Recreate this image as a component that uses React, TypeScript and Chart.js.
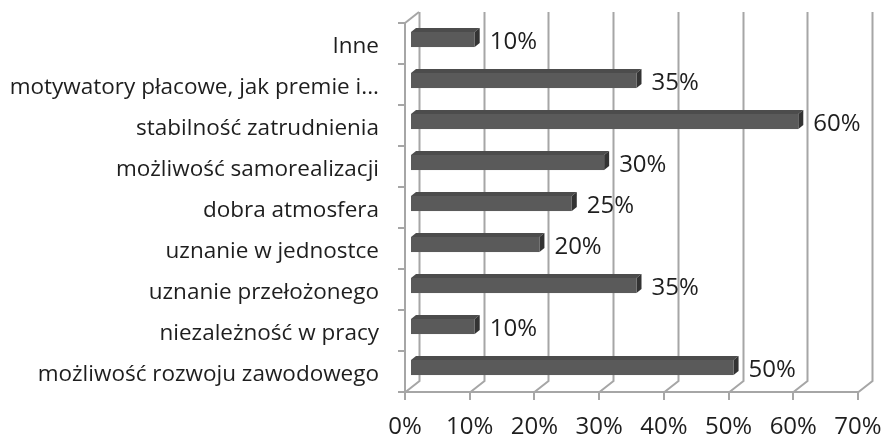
import React, { useEffect, useRef } from 'react';
import { Chart, registerables } from 'chart.js';
Chart.register(...registerables);

const categories = [
  'Inne',
  'motywatory płacowe, jak premie i...',
  'stabilność zatrudnienia',
  'możliwość samorealizacji',
  'dobra atmosfera',
  'uznanie w jednostce',
  'uznanie przełożonego',
  'niezależność w pracy',
  'możliwość rozwoju zawodowego',
];
const values = [10, 35, 60, 30, 25, 20, 35, 10, 50];
const xTicks = [0, 10, 20, 30, 40, 50, 60, 70];

const FONT = '"Open Sans", sans-serif';
const CAT_SIZE = 22.5;
const NUM_SIZE = 24;
const TEXT = '#1e1e1e';
const GRID = '#a6a6a6';
const WALL_DX = 14;
const WALL_DY = -11;
const BAR_DX = 5;
const BAR_DY = -4;

const wallPlugin = {
  id: 'wall3d',
  beforeDatasetsDraw(chart: any) {
    const { ctx, chartArea } = chart;
    const xs = chart.scales.x;
    const { top, bottom, left } = chartArea;
    ctx.save();
    ctx.strokeStyle = GRID;
    ctx.lineWidth = 2;
    xTicks.forEach((v) => {
      const px = Math.round(xs.getPixelForValue(v)) + 0.5;
      ctx.beginPath();
      ctx.moveTo(px + WALL_DX, top + WALL_DY);
      ctx.lineTo(px + WALL_DX, bottom + WALL_DY);
      ctx.lineTo(px, bottom);
      ctx.stroke();
    });
    ctx.beginPath();
    ctx.moveTo(left, top);
    ctx.lineTo(left + WALL_DX, top + WALL_DY);
    ctx.stroke();
    ctx.restore();
  },
  afterDatasetsDraw(chart: any) {
    const { ctx } = chart;
    const meta = chart.getDatasetMeta(0);
    ctx.save();
    meta.data.forEach((el: any, i: number) => {
      const { x, y, base, height } = el.getProps(['x', 'y', 'base', 'height'], true);
      const l = base + BAR_DX;
      const r = x + BAR_DX;
      const t = y - height / 2 + BAR_DY;
      const b = t + height;
      ctx.fillStyle = '#4c4c4c';
      ctx.beginPath();
      ctx.moveTo(l, t);
      ctx.lineTo(l + BAR_DX, t + BAR_DY);
      ctx.lineTo(r + BAR_DX, t + BAR_DY);
      ctx.lineTo(r, t);
      ctx.closePath();
      ctx.fill();
      ctx.fillStyle = '#333333';
      ctx.beginPath();
      ctx.moveTo(r, t);
      ctx.lineTo(r + BAR_DX, t + BAR_DY);
      ctx.lineTo(r + BAR_DX, b + BAR_DY);
      ctx.lineTo(r, b);
      ctx.closePath();
      ctx.fill();
      ctx.fillStyle = '#5a5a5a';
      ctx.fillRect(l, t, r - l, b - t);
      ctx.fillStyle = TEXT;
      ctx.font = `${NUM_SIZE}px ${FONT}`;
      ctx.textAlign = 'left';
      ctx.textBaseline = 'middle';
      ctx.fillText(`${values[i]}%`, x + 20, y - 1);
    });
    ctx.restore();
  },
};

export default function App() {
  const ref = useRef<HTMLCanvasElement | null>(null);
  useEffect(() => {
    if (!ref.current) return;
    const chart = new Chart(ref.current, {
      type: 'bar',
      data: {
        labels: categories,
        datasets: [
          {
            data: values,
            backgroundColor: 'rgba(0,0,0,0)',
            borderWidth: 0,
            barPercentage: 0.46,
            categoryPercentage: 0.8,
          },
        ],
      },
      options: {
        indexAxis: 'y',
        animation: false,
        responsive: false,
        devicePixelRatio: 1,
        layout: { padding: { top: 23, right: 26, left: 0, bottom: 0 } },
        plugins: { legend: { display: false }, tooltip: { enabled: false } },
        scales: {
          x: {
            min: 0,
            max: 70,
            afterBuildTicks: (s: any) => {
              s.ticks = xTicks.map((v) => ({ value: v }));
            },
            afterFit: (s: any) => {
              s.height = 47;
              s.paddingLeft = 0;
              s.paddingRight = 0;
            },
            grid: { drawOnChartArea: false, color: GRID, lineWidth: 2, tickLength: 8 },
            border: { color: GRID, width: 2 },
            ticks: {
              color: TEXT,
              font: { family: FONT, size: NUM_SIZE },
              padding: 13,
              maxRotation: 0,
              callback: (v: any) => `${v}%`,
            },
          },
          y: {
            afterFit: (s: any) => {
              s.width = 405;
              s.paddingTop = 0;
              s.paddingBottom = 0;
            },
            grid: { drawOnChartArea: false, color: GRID, lineWidth: 2, tickLength: 7, offset: true },
            border: { color: GRID, width: 2 },
            ticks: {
              color: TEXT,
              font: { family: FONT, size: CAT_SIZE },
              padding: 19,
              labelOffset: 3,
            },
          },
        },
      },
      plugins: [wallPlugin],
    });
    return () => chart.destroy();
  }, []);
  return (
    <div style={{ position: 'absolute', left: 0, top: 0, width: 884, height: 439, background: '#fff' }}>
      <canvas ref={ref} width={884} height={439} />
    </div>
  );
}
